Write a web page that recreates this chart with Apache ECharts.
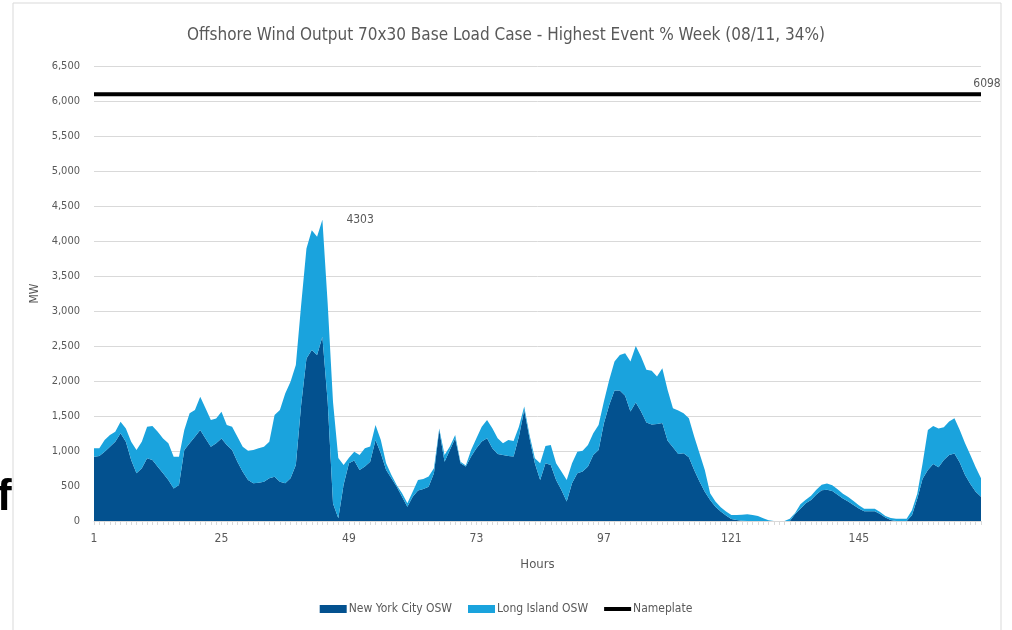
<!DOCTYPE html>
<html>
<head>
<meta charset="utf-8">
<script src="https://cdn.jsdelivr.net/npm/echarts@6/dist/echarts.min.js"></script>
<style>
  html, body { margin: 0; padding: 0; background: #fff; }
  #chart { width: 1012px; height: 630px; }
</style>
</head>
<body>
<div id="chart"></div>
<script>
// hours 1..168
var hours = [];
for (var i = 1; i <= 168; i++) hours.push(String(i));

// New York City OSW (MW)
var nycOsw = [919,928,990,1061,1133,1252,1133,871,681,752,895,871,776,681,585,466,514,1014,1109,1204,
  1300,1180,1061,1109,1180,1085,1014,847,704,585,538,547,
  562,609,633,562,538,609,800,1656,2323,2442,2370,2632,1700,250,40,520,825,
  863,729,777,848,1158,968,729,610,491,348,205,348,434,458,491,682,1301,848,1015,1182,
  825,777,920,1039,1134,1182,1039,958,944,930,920,1206,1587,1182,825,586,825,801,586,443,
  277,539,682,706,777,944,1015,1396,1658,1863,1863,1790,
  1563,1692,1563,1406,1377,1387,1400,1148,1053,958,968,910,729,563,419,301,205,134,77,30,
  15,5,0,0,0,0,0,0,0,0,0,100,176,255,300,380,440,445,430,375,320,
  280,230,180,140,140,140,100,50,15,0,0,0,81,319,605,729,815,767,872,944,963,834,658,529,419,348];

// Long Island OSW (MW), stacked on NYC
var liOsw = [119,110,167,167,143,167,190,262,333,381,452,486,500,499,524,453,405,286,429,381,
  476,429,381,357,381,286,333,357,357,419,476,493,
  499,524,881,1023,1285,1381,1428,1429,1571,1713,1690,1671,1400,1450,860,280,80,
  128,215,262,215,214,190,96,48,20,48,48,71,152,142,143,71,20,96,48,47,
  23,15,95,143,214,261,286,224,166,228,224,142,47,47,71,239,247,285,239,263,
  309,286,309,297,309,309,357,310,357,414,509,606,
  714,809,785,756,771,676,782,724,557,619,571,557,477,405,310,95,72,62,57,56,
  71,86,96,86,72,38,10,0,0,0,33,14,62,50,62,68,79,89,80,78,71,
  63,56,44,36,36,36,29,22,28,33,33,33,72,72,215,572,543,553,467,476,504,467,452,415,348,262];

var nameplateValue = 6098;
var peakIndex = 43; // hour 44

var nameplate = hours.map(function () { return nameplateValue; });
var totals = nycOsw.map(function (v, i) { return v + liOsw[i]; });

var font = "'DejaVu Sans Condensed', 'Liberation Sans Narrow', sans-serif";
var gray = '#595959';

var chart = echarts.init(document.getElementById('chart'));
chart.setOption({
  animation: false,
  backgroundColor: '#fff',
  textStyle: { fontFamily: font },
  title: {
    text: 'Offshore Wind Output 70x30 Base Load Case - Highest Event % Week (08/11, 34%)',
    left: 'center', top: 22,
    textStyle: { fontSize: 17, fontWeight: 'normal', color: gray, fontFamily: font }
  },
  graphic: [
    { type: 'rect', shape: { x: 13, y: 3, width: 988, height: 640 },
      style: { fill: 'none', stroke: '#d9d9d9', lineWidth: 1 }, silent: true },
    { type: 'text', left: -3, top: 476,
      style: { text: 'f', fontSize: 44, fontWeight: 'bold', fill: '#000', fontFamily: 'Liberation Sans, sans-serif' } }
  ],
  legend: {
    bottom: 10, left: 'center', itemGap: 16, itemWidth: 27, itemHeight: 8,
    textStyle: { color: gray, fontSize: 12, fontFamily: font, padding: [0, 0, 0, -3] },
    data: [
      { name: 'New York City OSW', icon: 'rect' },
      { name: 'Long Island OSW', icon: 'rect' },
      { name: 'Nameplate', icon: 'path://M0,0 H27 V4 H0 Z' }
    ]
  },
  grid: { left: 94, right: 31, top: 66, bottom: 109 },
  xAxis: {
    type: 'category', data: hours, boundaryGap: false,
    name: 'Hours', nameLocation: 'middle', nameGap: 37,
    nameTextStyle: { color: gray, fontSize: 13, fontFamily: font },
    axisLine: { lineStyle: { color: '#d9d9d9' } },
    axisTick: { show: true, interval: 0, length: 4, lineStyle: { color: '#d9d9d9' } },
    axisLabel: { interval: 23, color: gray, fontSize: 12, margin: 12, fontFamily: font },
    splitLine: { show: false }
  },
  yAxis: {
    type: 'value', min: 0, max: 6500, interval: 500,
    name: 'MW', nameLocation: 'middle', nameGap: 50, nameRotate: 90,
    nameTextStyle: { color: gray, fontSize: 12, fontFamily: font },
    axisLine: { show: false }, axisTick: { show: false },
    axisLabel: {
      color: gray, fontSize: 11, margin: 14, fontFamily: font,
      formatter: function (v) { return v.toLocaleString('en-US'); }
    },
    splitLine: { lineStyle: { color: '#d9d9d9', width: 1 } }
  },
  series: [
    {
      name: 'New York City OSW', type: 'line', stack: 'osw', data: nycOsw,
      symbol: 'none', lineStyle: { width: 0 }, itemStyle: { color: '#03518f' },
      areaStyle: { color: '#03518f', opacity: 1 }
    },
    {
      name: 'Long Island OSW', type: 'line', stack: 'osw', data: liOsw,
      symbol: 'none', lineStyle: { width: 0 }, itemStyle: { color: '#1aa3dd' },
      areaStyle: { color: '#1aa3dd', opacity: 1 },
      markPoint: {
        symbol: 'circle', symbolSize: 0,
        label: {
          show: true, position: 'right', distance: 24,
          color: gray, fontSize: 12, fontFamily: font,
          formatter: function (p) { return String(p.value); }
        },
        data: [{ coord: [hours[peakIndex], totals[peakIndex]], value: totals[peakIndex] }]
      }
    },
    {
      name: 'Nameplate', type: 'line', data: nameplate,
      symbol: 'none', lineStyle: { width: 4, color: '#000' }, itemStyle: { color: '#000' },
      markPoint: {
        symbol: 'circle', symbolSize: 0,
        label: {
          show: true, position: 'top', distance: 4, offset: [6, 0],
          color: gray, fontSize: 12, fontFamily: font,
          formatter: function (p) { return String(p.value); }
        },
        data: [{ coord: [hours[hours.length - 1], nameplateValue], value: nameplateValue }]
      }
    }
  ]
});
</script>
</body>
</html>
